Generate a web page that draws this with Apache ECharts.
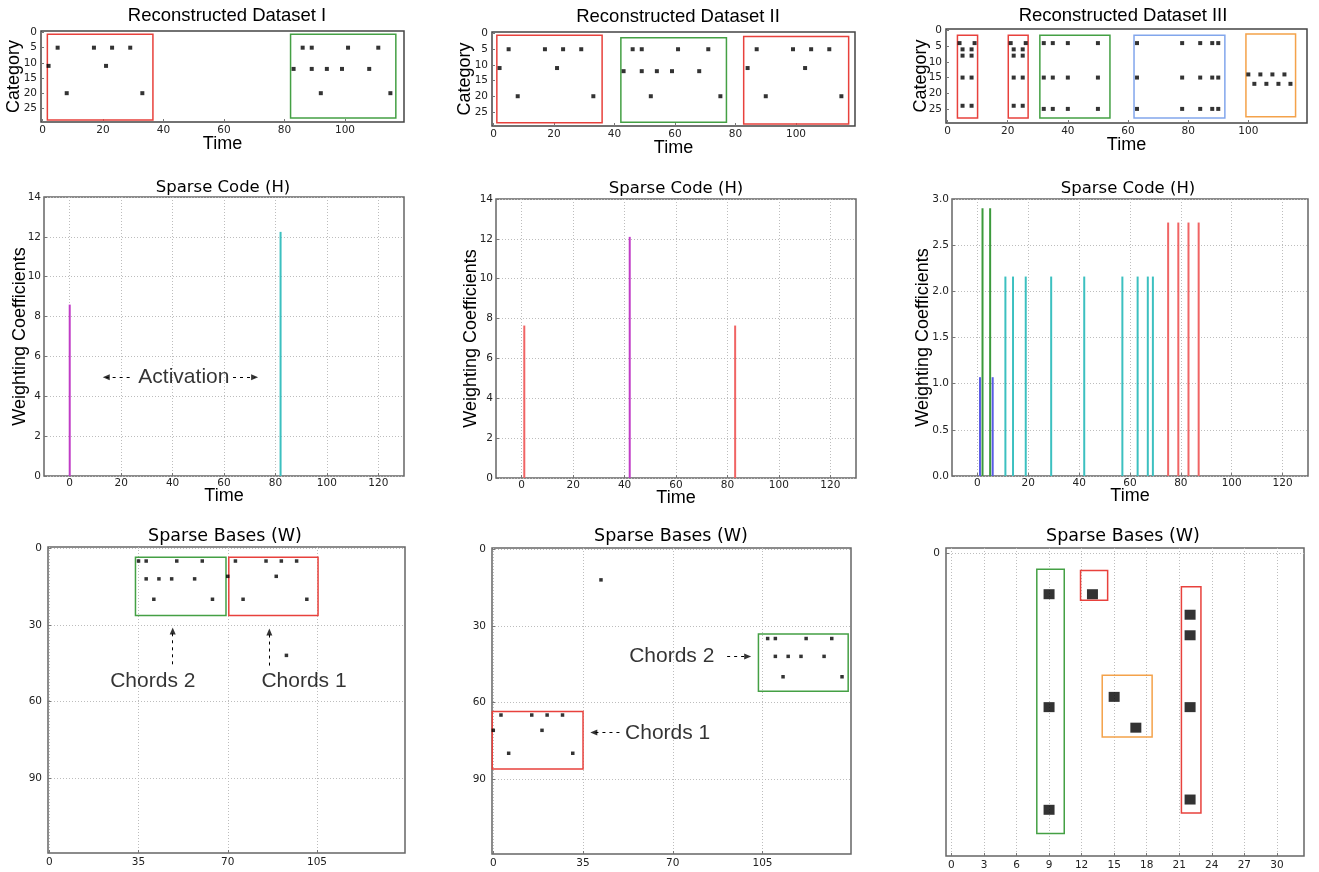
<!DOCTYPE html>
<html><head><meta charset="utf-8">
<script src="https://cdn.jsdelivr.net/npm/echarts@6/dist/echarts.min.js"></script>
<style>html,body{margin:0;padding:0;background:#fff}#c{width:1319px;height:872px}</style>
</head><body><div id="c"></div>
<script>
// ================= DATA =================
// Tick labels
const ticksTime = [0, 20, 40, 60, 80, 100];
const ticksTimeH = [0, 20, 40, 60, 80, 100, 120];
const ticksCategory = [0, 5, 10, 15, 20, 25];
const ticksBaseX = [0, 35, 70, 105];
const ticksBaseY = [0, 30, 60, 90];
const ticksBase3X = [0, 3, 6, 9, 12, 15, 18, 21, 24, 27, 30];
const ticksBase3Y = [0];

// Reconstructed datasets: [time, category]
const recIDots = [[2,11],[5,5],[8,20],[17,5],[21,11],[23,5],[29,5],[33,20],
  [83,12],[86,5],[89,5],[89,12],[92,20],[94,12],[99,12],[101,5],[108,12],[111,5],[115,20]];
const recIIDots = [[2,11],[5,5],[8,20],[17,5],[21,11],[23,5],[29,5],[33,20],
  [43,12],[46,5],[49,5],[49,12],[52,20],[54,12],[59,12],[61,5],[68,12],[71,5],[75,20],
  [84,11],[87,5],[90,20],[99,5],[103,11],[105,5],[111,5],[115,20]];
const recIIIDots = [[4,4],[9,4],[5,6],[8,6],[5,8],[8,8],[5,15],[8,15],[5,24],[8,24],
  [21,4],[26,4],[22,6],[25,6],[22,8],[25,8],[22,15],[25,15],[22,24],[25,24],
  [32,4],[35,4],[40,4],[50,4],[32,15],[35,15],[40,15],[50,15],[32,25],[35,25],[40,25],[50,25],
  [63,4],[78,4],[84,4],[88,4],[90,4],[63,15],[78,15],[84,15],[88,15],[90,15],[63,25],[78,25],[84,25],[88,25],[90,25],
  [100,14],[104,14],[108,14],[112,14],[102,17],[106,17],[110,17],[114,17]];
// annotation boxes [x1, y1, x2, y2] in data units
const recIBoxes = [[1.6,0.6,36.5,28.8],[82,0.6,116.8,28.2]];
const recIIBoxes = [[1.1,0.5,35.9,28.5],[42.1,1.3,77.0,28.3],[82.7,0.9,117.4,28.9]];
const recIIIBoxes = [[3.3,1.5,10.0,27.9],[20.2,1.5,26.8,27.9],[30.7,1.5,54.0,27.9],[62.0,1.5,92.2,27.9],[99.2,1.1,115.7,27.5]];

// Sparse codes H: time positions and weighting coefficients
const hIMagentaT = [0];      const hIMagentaV = [8.6];
const hICyanT = [82];        const hICyanV = [12.25];
const hIIRedT = [1, 83];     const hIIRedV = [7.65, 7.65];
const hIIMagentaT = [42];    const hIIMagentaV = [12.1];
const hIIIBlueT = [1, 6];    const hIIIBlueV = [1.07, 1.07];
const hIIIGreenT = [2, 5];   const hIIIGreenV = [2.9, 2.9];
const hIIICyanT = [11, 14, 19, 29, 42, 57, 63, 67, 69];
const hIIICyanV = [2.16, 2.16, 2.16, 2.16, 2.16, 2.16, 2.16, 2.16, 2.16];
const hIIIRedT = [75, 79, 83, 87];
const hIIIRedV = [2.745, 2.745, 2.745, 2.745];

// Sparse bases W: [column, row]
const wIDots = [[35,5],[38,5],[50,5],[60,5],[38,12],[43,12],[48,12],[57,12],[41,20],[64,20],
  [70,11],[73,5],[85,5],[91,5],[97,5],[89,11],[76,20],[101,20],[93,42]];
const wIIDots = [[42,12],[107,35],[110,35],[122,35],[132,35],[110,42],[115,42],[120,42],[129,42],[113,50],[136,50],
  [3,65],[15,65],[21,65],[27,65],[0,71],[19,71],[6,80],[31,80]];
const wIIIDots = [[9,4],[9,15],[9,25],[13,4],[22,6],[22,8],[22,15],[22,24],[15,14],[17,17]];
const wIBoxes = [[33.8,3.5,69.3,26.4],[70.4,3.5,105.4,26.4]];
const wIIBoxes = [[103.4,33.2,138.4,55.7],[-0.4,63.6,35,86.2]];
const wIIIBoxes = [[7.87,1.58,10.4,27.3],[11.9,1.68,14.4,4.58],[13.9,11.9,18.5,17.9],[21.2,3.28,23.0,25.3]];

// Annotations: label texts, label anchors, arrows [x1,y1,x2,y2] (tip at x2,y2)
const annoHIText = ['Activation'];
const annoHIAt = [[44.4, 4.95]];
const annoHIArrows = [[23.3,4.95,14.2,4.95],[63.5,4.95,71.9,4.95]];
const annoWIText = ['Chords 2', 'Chords 1'];
const annoWIAt = [[40.6, 52.3], [99.9, 52.3]];
const annoWIArrows = [[48.4,45.5,48.4,32.4],[86.3,46,86.3,32.8]];
const annoWIIText = ['Chords 2', 'Chords 1'];
const annoWIIAt = [[69.6, 42], [68, 72.2]];
const annoWIIArrows = [[91.2,42,99.2,42],[49.2,71.9,39.2,71.9]];

// ================= STYLE / LAYOUT =================
const COL = {magenta:'#c03cc6', cyan:'#3cc0c0', red:'#f06464', green:'#3c9a3c', blue:'#5a5ae6',
  bRed:'#e8413c', bGreen:'#44a044', bBlue:'#82a6ec', bOrange:'#f4a24a'};

const chart = echarts.init(document.getElementById('c'), null, {renderer:'canvas'});
const grids = [], xAxes = [], yAxes = [], series = [], titles = [];
const tickFont = {fontFamily:'DejaVu Sans', fontSize:10.5, color:'#222'};

function addPanel(cfg) {
  const i = grids.length;
  const b = cfg.box;
  grids.push({left:b[0], top:b[1], width:b[2]-b[0], height:b[3]-b[1], show:true,
    borderColor:cfg.border || '#555', borderWidth:1.5, backgroundColor:'rgba(0,0,0,0)'});
  const split = {show:!!cfg.grid, lineStyle:{type:[1,2], color:'#bdbdbd', width:1}};
  const nameStyle = (s) => ({fontFamily:'Liberation Sans', fontSize:s, color:'#000'});
  xAxes.push({type:'value', gridIndex:i, min:cfg.x[0], max:cfg.x[1],
    axisLine:{show:false, onZero:false},
    axisTick:{show:true, inside:true, length:3, customValues:cfg.xTicks, lineStyle:{color:'#777'}},
    axisLabel:Object.assign({customValues:cfg.xTicks, margin:cfg.xm}, tickFont),
    splitLine:split, nameMoveOverlap:false,
    name:cfg.xName || '', nameLocation:'middle', nameGap:cfg.xGap || 10, nameTextStyle:nameStyle(cfg.xNameSize || 18)});
  const ya = {type:'value', gridIndex:i, min:cfg.y[0], max:cfg.y[1], inverse:!!cfg.inv,
    axisLine:{show:false, onZero:false},
    axisTick:{show:true, inside:true, length:3, lineStyle:{color:'#777'}},
    axisLabel:Object.assign({margin:cfg.ym}, tickFont),
    splitLine:split, nameMoveOverlap:false,
    name:cfg.yName || '', nameLocation:'middle', nameGap:cfg.yGap || 10, nameTextStyle:nameStyle(cfg.yNameSize || 18)};
  if (cfg.yTicks) { ya.axisTick.customValues = cfg.yTicks; ya.axisLabel.customValues = cfg.yTicks; }
  if (cfg.yInterval) { ya.interval = cfg.yInterval; }
  if (cfg.yFmt) { ya.axisLabel.formatter = cfg.yFmt; }
  yAxes.push(ya);
  titles.push({text:cfg.title, left:cfg.tc[0], top:cfg.tc[1], textAlign:'center', padding:0,
    textStyle:{fontFamily:cfg.titleFont, fontSize:cfg.titleSize, fontWeight:'normal', color:'#000'}});
  return i;
}

function boxesArea(boxes, colors) {
  return {silent:true, label:{show:false},
    data: boxes.map((bx, k) => [
      {coord:[bx[0], bx[1]], itemStyle:{color:'rgba(0,0,0,0)', borderColor:colors[k], borderWidth:1.5}},
      {coord:[bx[2], bx[3]]}])};
}

function dotSeries(gi, dots, size, boxes, colors) {
  series.push({type:'scatter', xAxisIndex:gi, yAxisIndex:gi, data:dots, symbol:'rect', symbolSize:size,
    itemStyle:{color:'#000'}, silent:true, z:3, markArea:boxesArea(boxes, colors)});
}

function barSeries(gi, groups) {
  const data = [];
  groups.forEach(g => g.t.forEach((t, k) => data.push({value:[t, g.v[k]], itemStyle:{color:g.c}})));
  series.push({type:'bar', xAxisIndex:gi, yAxisIndex:gi, data:data, barWidth:2, silent:true});
}

function annoSeries(gi, texts, at, arrows, fs, invY) {
  // text labels
  series.push({type:'scatter', xAxisIndex:gi, yAxisIndex:gi, symbolSize:0, silent:true, z:5,
    itemStyle:{color:'#000'},
    data: at.map((p, k) => ({value:p, label:{show:true, position:'inside', formatter:texts[k],
      fontFamily:'Liberation Sans', fontSize:fs, color:'#000'}}))});
  // dashed shafts
  series.push({type:'line', xAxisIndex:gi, yAxisIndex:gi, data:[], silent:true, z:5,
    markLine:{silent:true, symbol:['none','none'], label:{show:false},
      lineStyle:{color:'#000', type:[3,4], width:1},
      data: arrows.map(a => [{coord:[a[0], a[1]]}, {coord:[a[2], a[3]]}])}});
  // arrow heads at the tips
  series.push({type:'scatter', xAxisIndex:gi, yAxisIndex:gi, symbol:'triangle', symbolSize:[6,7], silent:true, z:6,
    itemStyle:{color:'#000'},
    data: arrows.map(a => {
      const sdx = Math.sign(a[2] - a[0]);
      const sdy = invY ? Math.sign(a[3] - a[1]) : -Math.sign(a[3] - a[1]);
      const ang = Math.atan2(-sdy, sdx) * 180 / Math.PI;
      return {value:[a[2], a[3]], symbolRotate: ang - 90};
    })});
}

// ---- Row 1: reconstructed datasets ----
const rowTop = {x:[-0.5,119.5], y:[-0.5,29.5], inv:true, xTicks:ticksTime, yTicks:ticksCategory,
  xName:'Time', yName:'Category', xm:3, ym:4, border:'#444', grid:false, titleFont:'Liberation Sans', titleSize:18.5};
let g;
g = addPanel(Object.assign({}, rowTop, {box:[41,31,404,122], xGap:13, yGap:18, title:'Reconstructed Dataset I', tc:[227,6]}));
dotSeries(g, recIDots, 4, recIBoxes, [COL.bRed, COL.bGreen]);
g = addPanel(Object.assign({}, rowTop, {box:[492,32,855,126], xGap:13, yGap:18, title:'Reconstructed Dataset II', tc:[678,7]}));
dotSeries(g, recIIDots, 4, recIIBoxes, [COL.bRed, COL.bGreen, COL.bRed]);
g = addPanel(Object.assign({}, rowTop, {box:[946,29,1307,123], xGap:13, yGap:16, title:'Reconstructed Dataset III', tc:[1123,6]}));
dotSeries(g, recIIIDots, 4, recIIIBoxes, [COL.bRed, COL.bRed, COL.bGreen, COL.bBlue, COL.bOrange]);

// ---- Row 2: sparse codes ----
const rowMid = {x:[-10,130], xTicks:ticksTimeH, xName:'Time', yName:'Weighting Coefficients',
  xm:2, ym:3, xNameSize:18, yNameSize:18, border:'#666', grid:true, titleFont:'DejaVu Sans', titleSize:16.5, title:'Sparse Code (H)'};
g = addPanel(Object.assign({}, rowMid, {box:[44,197,404,476], y:[0,14], yInterval:2, xGap:11, yGap:15, tc:[223,179]}));
barSeries(g, [{t:hIMagentaT, v:hIMagentaV, c:COL.magenta}, {t:hICyanT, v:hICyanV, c:COL.cyan}]);
annoSeries(g, annoHIText, annoHIAt, annoHIArrows, 21, false);
g = addPanel(Object.assign({}, rowMid, {box:[496,199,856,478], y:[0,14], yInterval:2, xGap:11, yGap:16, tc:[676,180]}));
barSeries(g, [{t:hIIRedT, v:hIIRedV, c:COL.red}, {t:hIIMagentaT, v:hIIMagentaV, c:COL.magenta}]);
g = addPanel(Object.assign({}, rowMid, {box:[952,199,1308,476], y:[0,3], yInterval:0.5, yFmt:(v)=>v.toFixed(1), xGap:11, yGap:20, tc:[1128,180]}));
barSeries(g, [{t:hIIIBlueT, v:hIIIBlueV, c:COL.blue}, {t:hIIIGreenT, v:hIIIGreenV, c:COL.green},
  {t:hIIICyanT, v:hIIICyanV, c:COL.cyan}, {t:hIIIRedT, v:hIIIRedV, c:COL.red}]);

// ---- Row 3: sparse bases ----
const rowBot = {x:[-0.5,139.5], y:[-0.5,119.5], inv:true, xTicks:ticksBaseX, yTicks:ticksBaseY,
  xm:4, ym:6, border:'#666', grid:true, titleFont:'DejaVu Sans', titleSize:17.5, title:'Sparse Bases (W)'};
g = addPanel(Object.assign({}, rowBot, {box:[48,547,405,853], tc:[225,527]}));
dotSeries(g, wIDots, 3.5, wIBoxes, [COL.bGreen, COL.bRed]);
annoSeries(g, annoWIText, annoWIAt, annoWIArrows, 21, true);
g = addPanel(Object.assign({}, rowBot, {box:[492,548,851,854], tc:[671,527]}));
dotSeries(g, wIIDots, 3.5, wIIBoxes, [COL.bGreen, COL.bRed]);
annoSeries(g, annoWIIText, annoWIIAt, annoWIIArrows, 21, true);
g = addPanel(Object.assign({}, rowBot, {box:[946,548,1304,856], x:[-0.5,32.5], y:[-0.5,29.5], xTicks:ticksBase3X, yTicks:ticksBase3Y, tc:[1123,527]}));
dotSeries(g, wIIIDots, [11,10], wIIIBoxes, [COL.bGreen, COL.bRed, COL.bOrange, COL.bRed]);

chart.setOption({animation:false, backgroundColor:'#fff', title:titles, grid:grids, xAxis:xAxes, yAxis:yAxes, series:series});
</script></body></html>
